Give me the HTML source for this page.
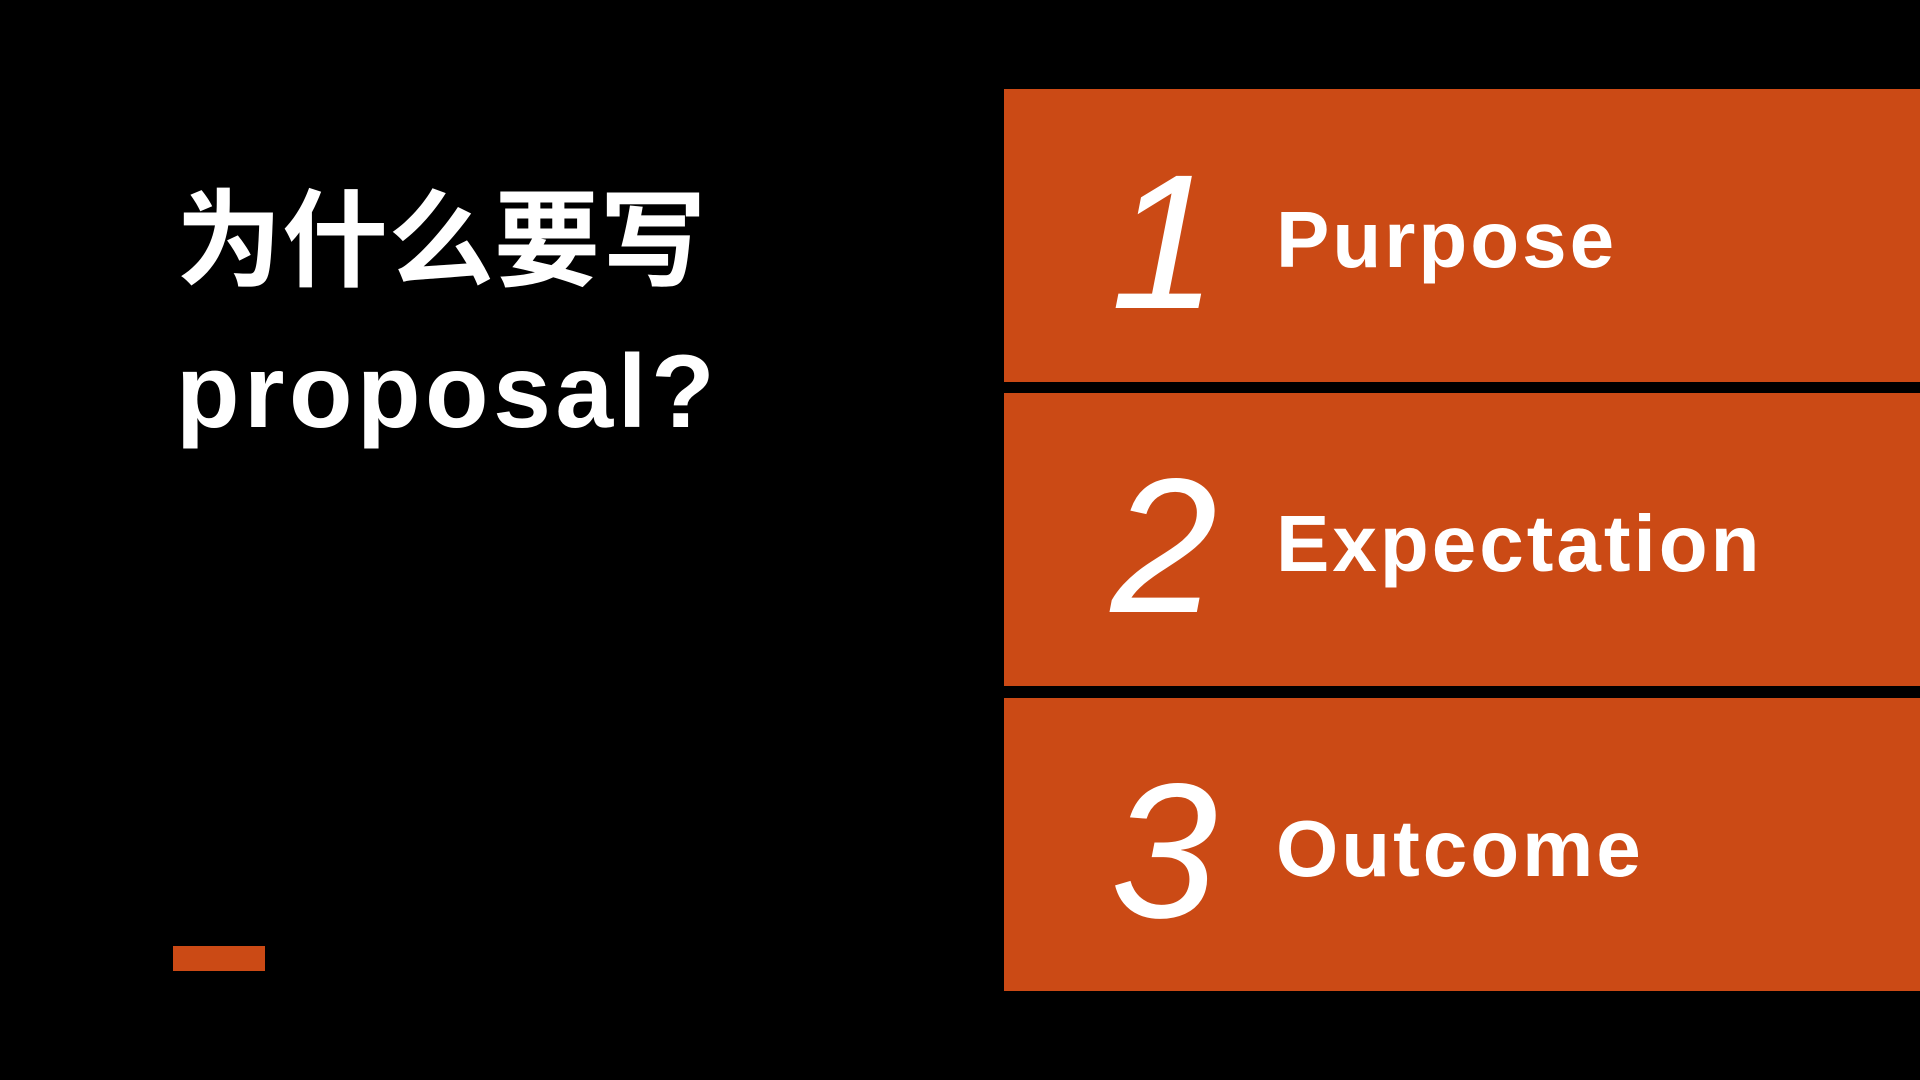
<!DOCTYPE html>
<html>
<head>
<meta charset="utf-8">
<style>
  html,body{margin:0;padding:0;}
  body{width:1920px;height:1080px;background:#000;position:relative;overflow:hidden;
    font-family:"Liberation Sans","Noto Sans CJK SC",sans-serif;color:#fff;}
  .title{position:absolute;left:176px;font-weight:bold;white-space:nowrap;}
  .t1{top:180px;font-size:106px;line-height:124px;}
  .t2{top:330px;font-size:104px;line-height:124px;letter-spacing:4.5px;}
  .bar{position:absolute;left:173px;top:946px;width:92px;height:25px;background:#CB4A15;}
  .box{position:absolute;left:1004px;width:916px;height:293px;background:#CB4A15;}
  .num{position:absolute;left:80px;width:160px;top:6px;height:293px;line-height:293px;
    font-family:"Liberation Sans",sans-serif;font-style:italic;font-size:192px;text-align:center;}
  .lbl{position:absolute;left:272px;top:4px;height:293px;line-height:293px;font-size:80px;font-weight:bold;letter-spacing:3px;}
</style>
</head>
<body>
  <div class="title t1">为什么要写</div>
  <div class="title t2">proposal?</div>
  <div class="bar"></div>

  <div class="box" style="top:89px">
    <div class="num">1</div>
    <div class="lbl">Purpose</div>
  </div>
  <div class="box" style="top:393px">
    <div class="num">2</div>
    <div class="lbl">Expectation</div>
  </div>
  <div class="box" style="top:698px">
    <div class="num">3</div>
    <div class="lbl">Outcome</div>
  </div>
</body>
</html>
